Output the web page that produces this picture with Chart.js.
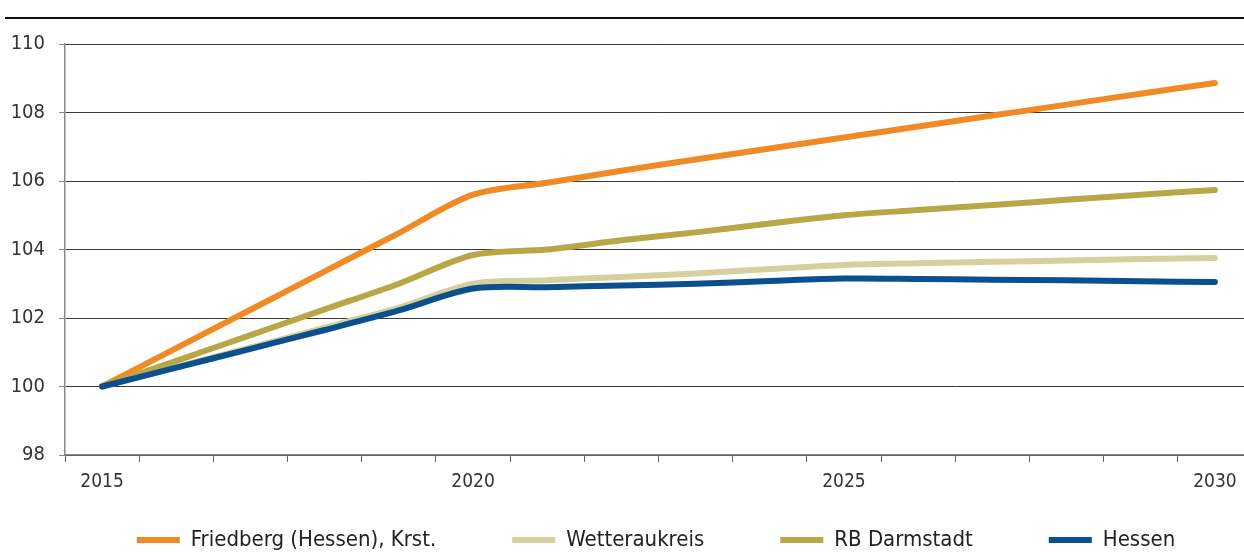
<!DOCTYPE html>
<html>
<head>
<meta charset="utf-8">
<script src="https://cdn.jsdelivr.net/npm/chart.js@4"></script>
<style>
    html, body { margin: 0; padding: 0; background: #fff; overflow: hidden; }
    #wrap { position: absolute; left: 0; top: 0; width: 1252px; height: 613px; }
    #topline { position: absolute; left: 5px; right: 0; top: 17px; height: 2px; background: #111; }
</style>
</head>
<body>
<div id="topline"></div>
<div id="wrap"><canvas id="myChart"></canvas></div>
<script>
const jahre = ['2015', '2016', '2017', '2018', '2019', '2020', '2021', '2022', '2023', '2024', '2025', '2026', '2027', '2028', '2029', '2030'];
const friedberg = [100, 101.12, 102.24, 103.36, 104.48, 105.6, 105.95, 106.3, 106.63, 106.95, 107.27, 107.59, 107.91, 108.23, 108.55, 108.86];
const wetterau = [100, 100.57, 101.14, 101.72, 102.3, 103.0, 103.1, 103.2, 103.3, 103.43, 103.55, 103.6, 103.64, 103.68, 103.72, 103.75];
const darmstadt = [100, 100.75, 101.5, 102.25, 103.0, 103.84, 104.0, 104.27, 104.5, 104.76, 105.0, 105.15, 105.3, 105.45, 105.6, 105.74];
const hessen = [100, 100.55, 101.1, 101.65, 102.22, 102.86, 102.9, 102.95, 103.0, 103.08, 103.15, 103.14, 103.12, 103.1, 103.07, 103.05];
const beschriftungen = ['2015', '2020', '2025', '2030'];

const schrift = "'Liberation Sans Narrow', 'DejaVu Sans Condensed', sans-serif";

function linie(label, daten, farbe, reihenfolge) {
    return {
        label: label,
        data: daten,
        borderColor: farbe,
        backgroundColor: farbe,
        borderWidth: 6,
        borderCapStyle: 'round',
        borderJoinStyle: 'round',
        pointRadius: 0,
        tension: 0.3,
        fill: false,
        order: reihenfolge
    };
}

// Legende wie im Original etwas nach rechts und nach oben schieben
const legendeVerschieben = {
    id: 'legendeVerschieben',
    afterLayout(c) {
        c.legend.left += 60;
        c.legend.top -= 52;
        c.legend.bottom -= 52;
    }
};

const ctx = document.getElementById('myChart').getContext('2d');
const chart = new Chart(ctx, {
    type: 'line',
    data: {
        labels: jahre,
        datasets: [
            linie('Friedberg (Hessen), Krst.', friedberg, '#F08A24', 4),
            linie('Wetteraukreis', wetterau, '#D6CF9E', 3),
            linie('RB Darmstadt', darmstadt, '#B8A747', 2),
            linie('Hessen', hessen, '#0B4F8F', 1)
        ]
    },
    plugins: [legendeVerschieben],
    options: {
        responsive: true,
        maintainAspectRatio: false,
        animation: false,
        layout: { padding: { top: 44, left: 0, right: 0, bottom: 0 } },
        plugins: {
            tooltip: { enabled: false },
            legend: {
                position: 'bottom',
                labels: {
                    boxWidth: 43,
                    boxHeight: 6,
                    padding: 76,
                    color: '#222',
                    font: { family: schrift, size: 22 },
                    sort: (a, b) => a.datasetIndex - b.datasetIndex,
                    generateLabels: (c) => {
                        const items = Chart.defaults.plugins.legend.labels.generateLabels(c);
                        items.forEach(item => {
                            item.lineWidth = 0;
                            item.fillStyle = item.strokeStyle;
                        });
                        return items;
                    }
                }
            }
        },
        scales: {
            x: {
                type: 'category',
                offset: true,
                afterFit: (scale) => { scale.height = 50; },
                grid: {
                    offset: true,
                    drawOnChartArea: false,
                    drawTicks: true,
                    tickLength: 7,
                    tickColor: '#666'
                },
                border: { color: '#888', width: 1.5 },
                ticks: {
                    autoSkip: false,
                    maxRotation: 0,
                    padding: 9,
                    color: '#333',
                    font: { family: schrift, size: 19 },
                    callback: function (value) {
                        const jahr = this.getLabelForValue(value);
                        return beschriftungen.includes(jahr) ? jahr : '';
                    }
                }
            },
            y: {
                min: 98,
                max: 110,
                afterFit: (scale) => { scale.width = 65; },
                grid: {
                    color: '#3a3a3a',
                    lineWidth: 1,
                    tickLength: 6,
                    tickColor: '#888'
                },
                border: { color: '#888', width: 1.5 },
                ticks: {
                    stepSize: 2,
                    padding: 14,
                    color: '#333',
                    font: { family: schrift, size: 20 }
                }
            }
        }
    }
});
</script>
</body>
</html>
